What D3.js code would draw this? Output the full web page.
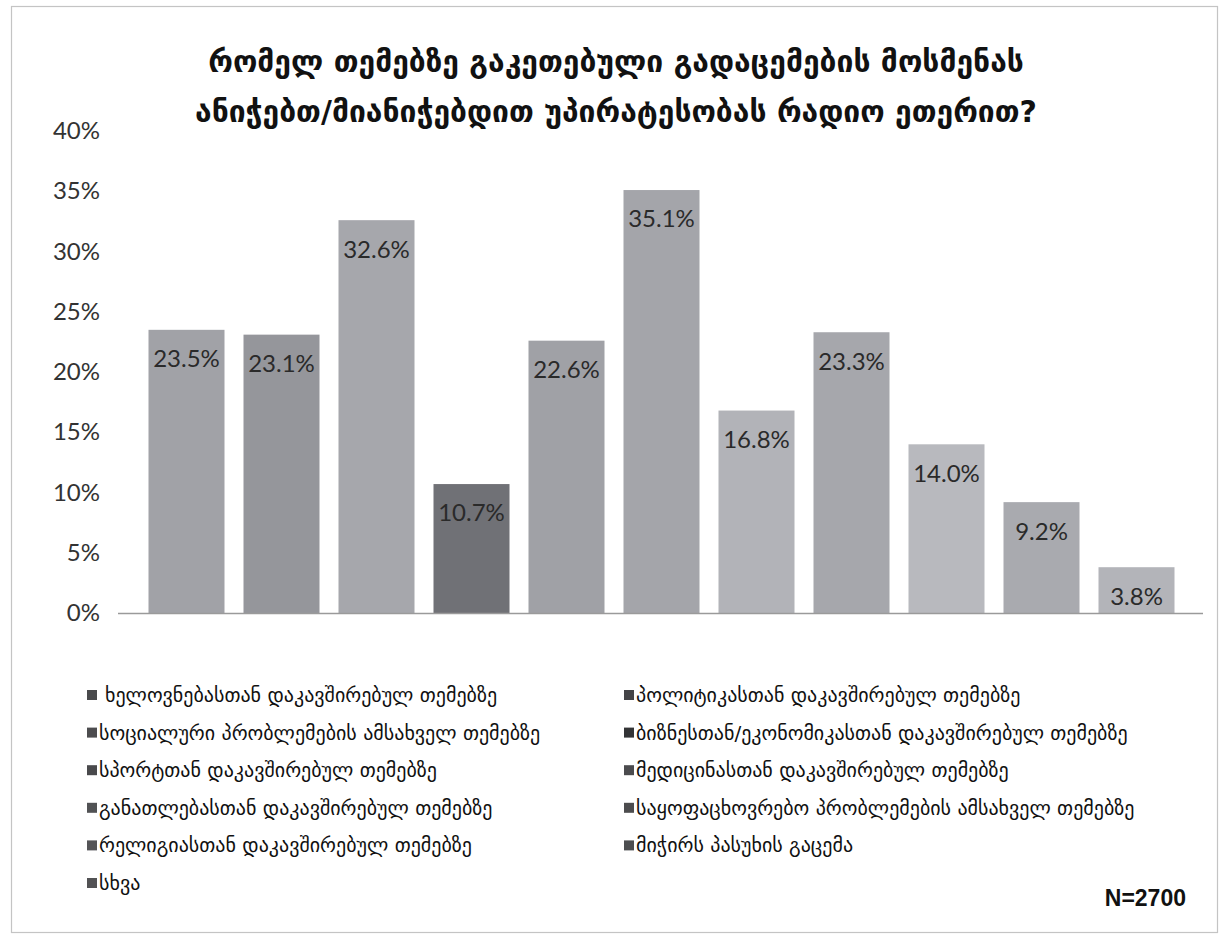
<!DOCTYPE html>
<html>
<head>
<meta charset="utf-8">
<script src="https://cdn.jsdelivr.net/npm/d3@7"></script>
<style>
  html, body { margin: 0; padding: 0; background: #fff; }
  svg { display: block; }
</style>
</head>
<body>
<svg id="chart" width="1223" height="937"></svg>
<script>
// Survey question and answer topics
const titleLines = [
  "რომელ თემებზე გაკეთებული გადაცემების მოსმენას",
  "ანიჭებთ/მიანიჭებდით უპირატესობას რადიო ეთერით?"
];
const categories = [
  "ხელოვნებასთან დაკავშირებულ თემებზე",
  "პოლიტიკასთან დაკავშირებულ თემებზე",
  "სოციალური პრობლემების ამსახველ თემებზე",
  "ბიზნესთან/ეკონომიკასთან დაკავშირებულ თემებზე",
  "სპორტთან დაკავშირებულ თემებზე",
  "მედიცინასთან დაკავშირებულ თემებზე",
  "განათლებასთან დაკავშირებულ თემებზე",
  "საყოფაცხოვრებო პრობლემების ამსახველ თემებზე",
  "რელიგიასთან დაკავშირებულ თემებზე",
  "მიჭირს პასუხის გაცემა",
  "სხვა"
];
const values = [23.5, 23.1, 32.6, 10.7, 22.6, 35.1, 16.8, 23.3, 14.0, 9.2, 3.8];
const colors = ["#a1a2a7", "#95969b", "#a6a7ac", "#707176", "#a0a1a6", "#a4a5aa",
                "#b2b3b8", "#a6a7ac", "#b8b9be", "#a9aaaf", "#b3b4b9"];
const yTicks = [0, 5, 10, 15, 20, 25, 30, 35, 40];
const sampleNote = "N=2700";

const svg = d3.select("#chart");
const geoFont = "'DejaVu Sans', 'Noto Sans', sans-serif";
const numFont = "Lato, 'Open Sans', sans-serif";

// outer frame
svg.append("rect")
  .attr("x", 11.5).attr("y", 6.5)
  .attr("width", 1206).attr("height", 926)
  .attr("fill", "#fff")
  .attr("stroke", "#c4c4c4").attr("stroke-width", 1.2);

// title
svg.append("g").selectAll("text")
  .data(titleLines)
  .join("text")
  .attr("x", 616)
  .attr("y", (d, i) => 72 + i * 50)
  .attr("text-anchor", "middle")
  .attr("font-family", geoFont)
  .attr("font-weight", "bold")
  .attr("font-size", 30)
  .attr("fill", "#111")
  .text(d => d);

// scales
const x = d3.scaleBand()
  .domain(d3.range(values.length))
  .range([120, 1203])
  .paddingInner(0.2)
  .paddingOuter(0.3);

const y = d3.scaleLinear().domain([0, 40]).range([613, 131]);

// y axis labels
const yAxis = d3.axisLeft(y)
  .tickValues(yTicks)
  .tickFormat(d => d + "%")
  .tickSize(0)
  .tickPadding(0);

const yg = svg.append("g")
  .attr("transform", "translate(100,0)")
  .call(yAxis);
yg.select(".domain").remove();
yg.selectAll("text")
  .attr("font-family", numFont)
  .attr("font-size", 24)
  .attr("fill", "#333");

// bars
svg.append("g").selectAll("rect")
  .data(values)
  .join("rect")
  .attr("x", (d, i) => x(i))
  .attr("y", d => y(d))
  .attr("width", x.bandwidth())
  .attr("height", d => y(0) - y(d))
  .attr("fill", (d, i) => colors[i]);

// value labels, just inside the top of each bar
svg.append("g").selectAll("text")
  .data(values)
  .join("text")
  .attr("x", (d, i) => x(i) + x.bandwidth() / 2)
  .attr("y", d => y(d) + 29)
  .attr("dy", "0.35em")
  .attr("text-anchor", "middle")
  .attr("font-family", numFont)
  .attr("font-size", 24)
  .attr("fill", "#2a2a2a")
  .text(d => d.toFixed(1) + "%");

// category axis line
svg.append("line")
  .attr("x1", 118).attr("x2", 1203)
  .attr("y1", y(0) + 0.5).attr("y2", y(0) + 0.5)
  .attr("stroke", "#9a9a9a").attr("stroke-width", 1.5);

// legend in two columns, filled row by row
const legend = svg.append("g");
const items = legend.selectAll("g")
  .data(categories)
  .join("g")
  .attr("transform", (d, i) => {
    const col = i % 2, row = Math.floor(i / 2);
    return `translate(${col === 0 ? 87 : 624},${695 + row * 37.6})`;
  });
items.append("rect")
  .attr("x", 0).attr("y", -5)
  .attr("width", 10).attr("height", 10)
  .attr("fill", (d, i) => d3.color(colors[i]).darker(2.2));
items.append("text")
  .attr("x", (d, i) => i === 0 ? 18 : 12)
  .attr("y", 0)
  .attr("dy", "0.35em")
  .attr("font-family", geoFont)
  .attr("font-size", 20)
  .attr("fill", "#111")
  .text(d => d);

// sample size
svg.append("text")
  .attr("x", 1186).attr("y", 898)
  .attr("dy", "0.35em")
  .attr("text-anchor", "end")
  .attr("font-family", "'Liberation Sans', Arial, sans-serif")
  .attr("font-weight", "bold")
  .attr("font-size", 23)
  .attr("fill", "#111")
  .text(sampleNote);
</script>
</body>
</html>
